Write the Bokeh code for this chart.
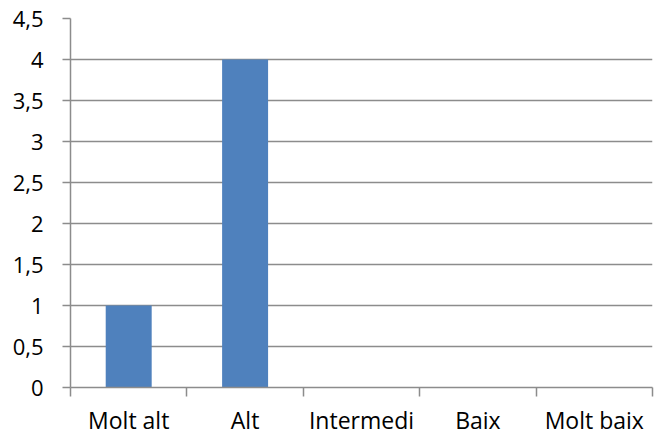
from bokeh.plotting import figure
from bokeh.models import Range1d, FixedTicker
from bokeh.embed import file_html
from bokeh.resources import INLINE

categories = ["Molt alt", "Alt", "Intermedi", "Baix", "Molt baix"]
values = [1, 4, 0, 0, 0]
y_ticks = [0, 0.5, 1, 1.5, 2, 2.5, 3, 3.5, 4, 4.5]
y_tick_labels = ["0", "0,5", "1", "1,5", "2", "2,5", "3", "3,5", "4", "4,5"]

GRID = "#8c8c8c"
FONT = "Open Sans"

n = len(categories)
centers = [i + 0.5 for i in range(n)]   # category slot centres
edges = list(range(n + 1))              # category slot boundaries

p = figure(width=659, height=438, x_range=Range1d(0, n),
           y_range=Range1d(0, 4.5), output_backend="svg", toolbar_location=None,
           min_border_left=70, min_border_right=7,
           min_border_top=18, min_border_bottom=50)
p.outline_line_color = None
p.background_fill_color = "white"
p.border_fill_color = "white"

p.vbar(x=centers, top=values, width=0.395, fill_color="#4F81BD", line_color=None)

xaxis = p.xaxis[0]
xaxis.ticker = FixedTicker(ticks=centers, minor_ticks=edges)
xaxis.major_label_overrides = {c: cat for c, cat in zip(centers, categories)}
xaxis.major_tick_out = 0
xaxis.major_tick_in = 0
xaxis.minor_tick_out = 9
xaxis.minor_tick_in = 0
xaxis.minor_tick_line_color = GRID
xaxis.minor_tick_line_width = 1.5
xaxis.axis_line_color = GRID
xaxis.axis_line_width = 1.5
xaxis.major_label_standoff = 7
xaxis.major_label_text_font = FONT
xaxis.major_label_text_font_size = "23px"
xaxis.major_label_text_color = "black"

yaxis = p.yaxis[0]
yaxis.ticker = FixedTicker(ticks=y_ticks)
yaxis.major_label_overrides = dict(zip(y_ticks, y_tick_labels))
yaxis.major_tick_out = 8
yaxis.major_tick_in = 0
yaxis.minor_tick_out = 0
yaxis.minor_tick_in = 0
yaxis.major_tick_line_color = GRID
yaxis.major_tick_line_width = 1.5
yaxis.axis_line_color = GRID
yaxis.axis_line_width = 1.5
yaxis.major_label_standoff = 19
yaxis.major_label_text_font = FONT
yaxis.major_label_text_font_size = "22px"
yaxis.major_label_text_color = "black"

p.xgrid.visible = False
p.ygrid.grid_line_color = GRID
p.ygrid.grid_line_width = 1.5

open("out.html", "w").write(file_html(p, INLINE))
